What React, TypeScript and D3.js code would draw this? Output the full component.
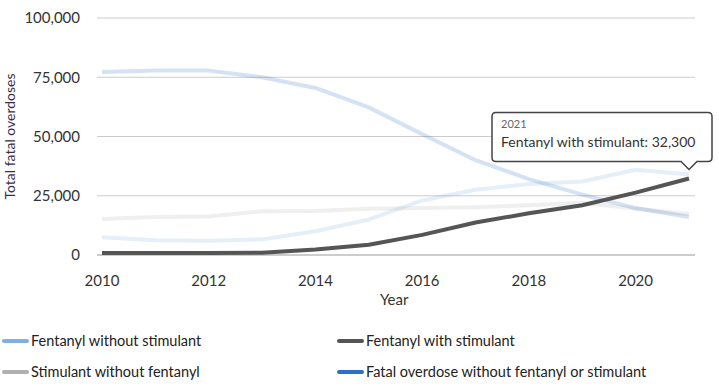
import * as d3 from 'd3'

const width = 719
const height = 389

const years = [2010, 2011, 2012, 2013, 2014, 2015, 2016, 2017, 2018, 2019, 2020, 2021]

const fentanylWithoutStimulant = [7500, 6200, 6000, 6600, 10000, 15000, 23000, 27500, 30000, 31000, 36000, 34000]
const fentanylWithStimulant = [800, 800, 800, 1000, 2300, 4300, 8500, 13700, 17600, 21000, 26300, 32300]
const stimulantWithoutFentanyl = [15200, 16000, 16200, 18500, 18600, 19500, 19800, 20200, 21000, 22000, 19500, 17300]
const withoutFentanylOrStimulant = [77200, 77800, 77800, 75000, 70500, 62300, 51000, 40000, 32000, 25500, 19800, 16000]

const yTicks = [0, 25000, 50000, 75000, 100000]
const xTicks = [2010, 2012, 2014, 2016, 2018, 2020]

const series = [
  { name: 'Fentanyl without stimulant', values: fentanylWithoutStimulant, color: '#7fb0e3' },
  { name: 'Fentanyl with stimulant', values: fentanylWithStimulant, color: '#555555' },
  { name: 'Stimulant without fentanyl', values: stimulantWithoutFentanyl, color: '#b0b0b0' },
  { name: 'Fatal overdose without fentanyl or stimulant', values: withoutFentanylOrStimulant, color: '#2c6fc9' },
]

const highlighted = 'Fentanyl with stimulant'
const hoverYear = 2021

const font = 'Lato, "Open Sans", sans-serif'

function App() {
  const x = d3.scaleLinear().domain([2010, 2021]).range([102, 689])
  const y = d3.scaleLinear().domain([0, 100000]).range([255, 18])

  const line = d3.line<number>()
    .x((_, i) => x(years[i]))
    .y(d => y(d))

  const fmt = d3.format(',')

  // faded series first, highlighted one on top
  const ordered = [...series].sort((a, b) => (a.name === highlighted ? 1 : 0) - (b.name === highlighted ? 1 : 0))

  const hl = series.find(s => s.name === highlighted)!
  const hoverVal = hl.values[years.indexOf(hoverYear)]
  const tipX = x(hoverYear)
  const tipY = y(hoverVal) - 9
  const boxRight = tipX + 23
  const boxLeft = boxRight - 220
  const boxBottom = tipY - 8
  const boxTop = boxBottom - 49
  const r = 4
  const tooltipPath = [
    `M${boxLeft + r},${boxTop}`,
    `H${boxRight - r}`,
    `Q${boxRight},${boxTop} ${boxRight},${boxTop + r}`,
    `V${boxBottom - r}`,
    `Q${boxRight},${boxBottom} ${boxRight - r},${boxBottom}`,
    `H${tipX + 8}`,
    `L${tipX},${tipY}`,
    `L${tipX - 8},${boxBottom}`,
    `H${boxLeft + r}`,
    `Q${boxLeft},${boxBottom} ${boxLeft},${boxBottom - r}`,
    `V${boxTop + r}`,
    `Q${boxLeft},${boxTop} ${boxLeft + r},${boxTop}`,
    'Z',
  ].join(' ')

  const legendCols = [2, 337]
  const legendRows = [341, 372]

  return (
    <svg width={width} height={height} style={{ position: 'absolute', left: 0, top: 0, fontFamily: font }}>
      <rect width={width} height={height} fill="#fff" />
      {yTicks.map(t => (
        <g key={t}>
          <line x1={97} x2={695} y1={y(t)} y2={y(t)} stroke={t === 0 ? '#bbbbbb' : '#cccccc'} strokeWidth={t === 0 ? 1.5 : 1} />
          <text x={80} y={y(t)} dy="0.35em" textAnchor="end" fontSize={15} fill="#333">{fmt(t)}</text>
        </g>
      ))}
      {xTicks.map(t => (
        <text key={t} x={x(t)} y={286} textAnchor="middle" fontSize={15} fill="#333">{t}</text>
      ))}
      <text x={x(2016) - 28} y={305} textAnchor="middle" fontSize={15} fill="#333">Year</text>
      <text transform={`translate(15, ${(y(0) + y(100000)) / 2}) rotate(-90)`} textAnchor="middle" fontSize={14} fill="#3a2d4a">Total fatal overdoses</text>

      {ordered.map(s => (
        <path
          key={s.name}
          d={line(s.values) ?? ''}
          fill="none"
          stroke={s.color}
          strokeOpacity={s.name === highlighted ? 1 : 0.2}
          strokeWidth={4}
          strokeLinejoin="round"
        />
      ))}

      <path d={tooltipPath} fill="#fff" stroke="#444" strokeWidth={1.5} />
      <text x={boxLeft + 9} y={boxTop + 16} fontSize={11} fill="#666">{hoverYear}</text>
      <text x={boxLeft + 9} y={boxTop + 35} fontSize={14} fill="#333">{`${highlighted}: ${fmt(hoverVal)}`}</text>

      {series.map((s, i) => {
        const lx = legendCols[i % 2]
        const ly = legendRows[Math.floor(i / 2)]
        return (
          <g key={s.name} transform={`translate(${lx}, ${ly})`}>
            <line x1={2} x2={25} y1={0} y2={0} stroke={s.color} strokeWidth={4} strokeLinecap="round" />
            <text x={29} y={0} dy="0.35em" fontSize={14.5} fill="#222">{s.name}</text>
          </g>
        )
      })}
    </svg>
  )
}

export default App
